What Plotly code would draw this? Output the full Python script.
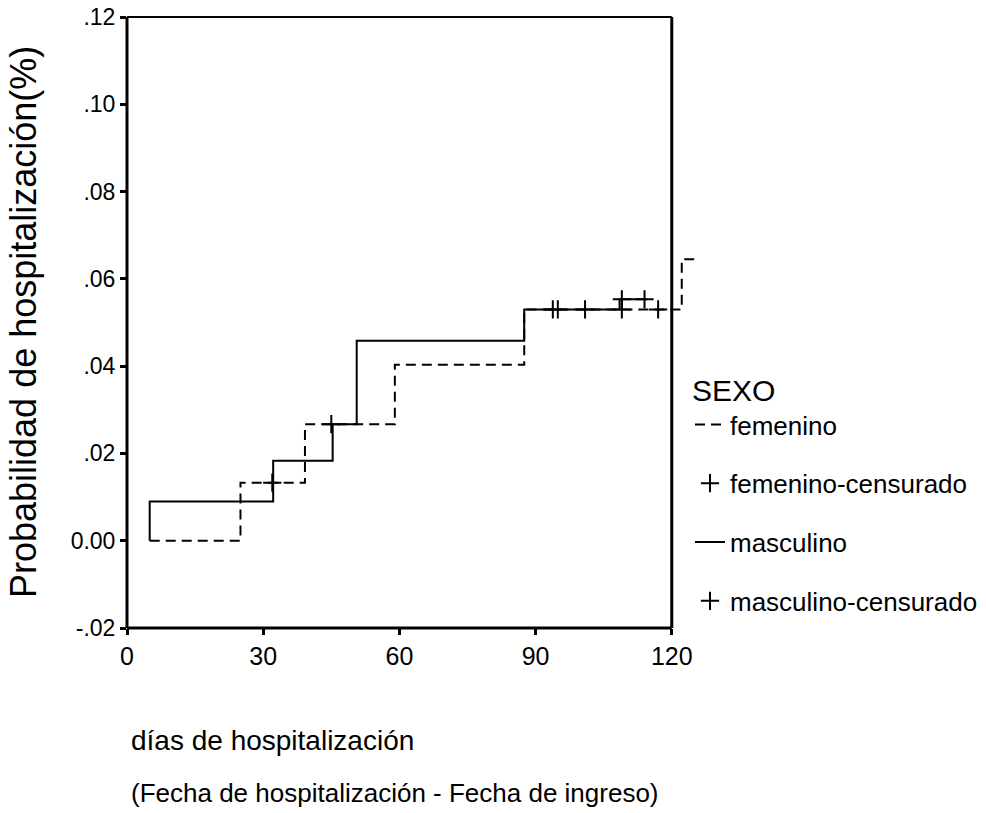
import plotly.graph_objects as go

# ---- data (step curves, 1 - survival) ----
fem_times = [5, 25, 39.2, 59, 87.5, 122.2]
fem_values = [0.0, 0.0133, 0.0267, 0.0403, 0.053, 0.0645]
fem_end = 125.5

fem_cens_days = [32.0, 45.0, 93.8, 94.9, 100.9, 109.0, 117.0]
fem_cens_values = [0.0133, 0.0267, 0.053, 0.053, 0.053, 0.053, 0.053]

masc_times = [5, 5, 32.2, 45.3, 50.6, 87.5, 108.5]
masc_values = [0.0, 0.009, 0.0183, 0.0267, 0.0458, 0.053, 0.0553]
masc_end = 114.5

masc_cens_days = [109.0, 114.0]
masc_cens_values = [0.0553, 0.0553]

x_ticks = [0, 30, 60, 90, 120]
y_tick_vals = [-0.02, 0.0, 0.02, 0.04, 0.06, 0.08, 0.10, 0.12]
y_tick_text = ["-.02", "0.00", ".02", ".04", ".06", ".08", ".10", ".12"]

X_MAX_AXIS = 120
X_RANGE = [0, 126]
Y_RANGE = [-0.02, 0.12]

FONT = "Liberation Sans, Arial, sans-serif"

fig = go.Figure()
fig.add_trace(go.Scatter(
    x=fem_times + [fem_end], y=fem_values + [fem_values[-1]],
    mode="lines", line=dict(shape="hv", color="black", width=2, dash="10px,6px"),
    name="femenino", legendgroup="g1"))
fig.add_trace(go.Scatter(
    x=fem_cens_days, y=fem_cens_values, mode="markers",
    marker=dict(symbol="cross-thin", size=13, line=dict(color="black", width=2), color="black"),
    name="femenino-censurado", legendgroup="g2"))
fig.add_trace(go.Scatter(
    x=masc_times + [masc_end], y=masc_values + [masc_values[-1]],
    mode="lines", line=dict(shape="hv", color="black", width=2),
    name="masculino", legendgroup="g3"))
fig.add_trace(go.Scatter(
    x=masc_cens_days, y=masc_cens_values, mode="markers",
    marker=dict(symbol="cross-thin", size=13, line=dict(color="black", width=2), color="black"),
    name="masculino-censurado", legendgroup="g4"))

W, H = 986, 813
L, R, T, B = 127, 287, 17, 185
pw, ph = W - L - R, H - T - B

def px_x(p):
    return (p - L) / pw

def px_y(p):
    return (H - B - p) / ph

xr = X_MAX_AXIS / (X_RANGE[1] - X_RANGE[0])  # paper position of x = 120

fig.update_layout(
    width=W, height=H,
    margin=dict(l=L, r=R, t=T, b=B, autoexpand=False),
    paper_bgcolor="white", plot_bgcolor="white",
    font=dict(family=FONT, color="black", size=24),
    xaxis=dict(range=X_RANGE, tickvals=x_ticks, ticks="outside", ticklen=6, tickwidth=3,
               tickcolor="black", showline=False, showgrid=False, zeroline=False,
               tickfont=dict(size=25, color="black")),
    yaxis=dict(range=Y_RANGE, tickvals=y_tick_vals, ticktext=y_tick_text,
               ticks="outside", ticklen=6, tickwidth=3, tickcolor="black",
               showline=False, showgrid=False, zeroline=False,
               tickfont=dict(size=23, color="black")),
    showlegend=True,
    legend=dict(xref="container", yref="container", x=690 / W, y=1 - 362 / H,
                xanchor="left", yanchor="top", bgcolor="rgba(0,0,0,0)",
                title=dict(text="SEXO", font=dict(size=30)),
                font=dict(size=26), tracegroupgap=22, itemwidth=30),
    shapes=[
        dict(type="line", xref="paper", yref="paper", x0=0, x1=0, y0=0, y1=1,
             line=dict(color="black", width=3), layer="above"),
        dict(type="line", xref="paper", yref="paper", x0=0, x1=xr, y0=0, y1=0,
             line=dict(color="black", width=3), layer="above"),
        dict(type="line", xref="paper", yref="paper", x0=0, x1=xr, y0=1, y1=1,
             line=dict(color="black", width=2), layer="above"),
        dict(type="line", xref="paper", yref="paper", x0=xr, x1=xr, y0=0, y1=1,
             line=dict(color="black", width=3), layer="above"),
    ],
    annotations=[
        dict(text="Probabilidad de hospitalización(%)", textangle=-90, showarrow=False,
             xref="paper", yref="paper", x=px_x(23), y=px_y(322), xanchor="center", yanchor="middle",
             font=dict(size=36)),
        dict(text="días de hospitalización", showarrow=False,
             xref="paper", yref="paper", x=px_x(129), y=px_y(740), xanchor="left", yanchor="middle",
             font=dict(size=28)),
        dict(text="(Fecha de hospitalización - Fecha de ingreso)", showarrow=False,
             xref="paper", yref="paper", x=px_x(129), y=px_y(793), xanchor="left", yanchor="middle",
             font=dict(size=26)),
    ],
)

fig.write_html("out.html")
